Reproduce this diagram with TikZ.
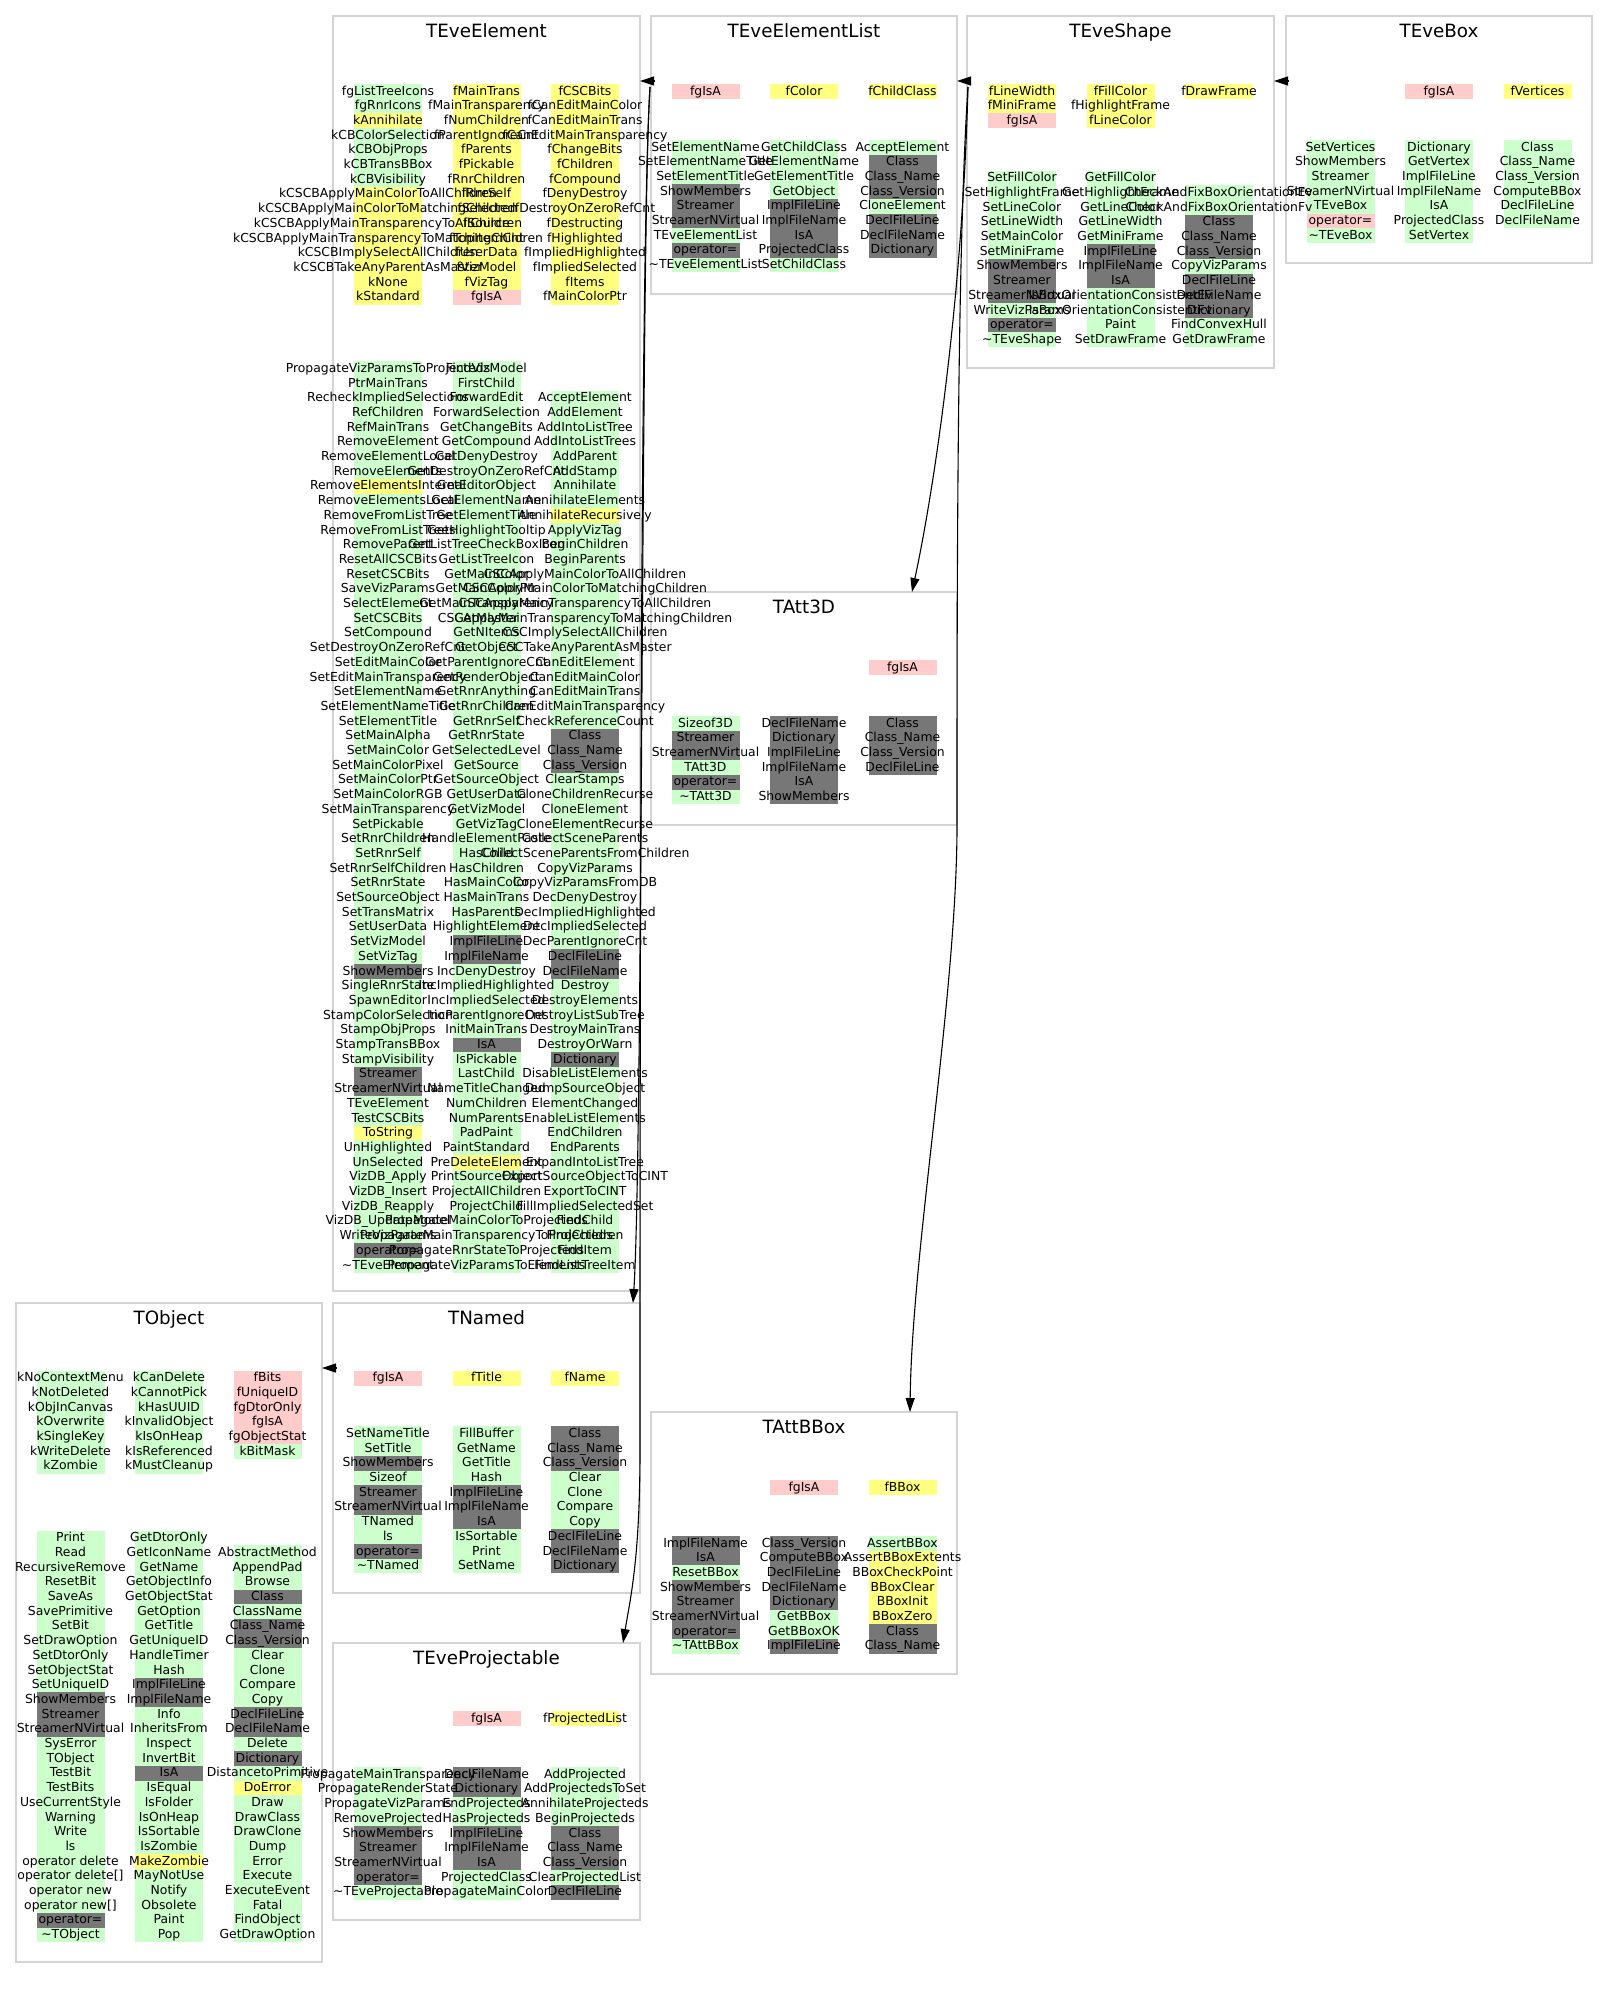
\documentclass[tikz,border=0pt]{standalone}
\usepackage{fontspec}
\setmainfont{DejaVu Sans}
\usetikzlibrary{arrows.meta}

\definecolor{G}{HTML}{CCFFCC}
\definecolor{Y}{HTML}{FFFF80}
\definecolor{P}{HTML}{FFCCCC}
\definecolor{D}{HTML}{777777}
\definecolor{framegray}{HTML}{D4D4D4}

\tikzset{
  cbox/.style={draw=framegray, line width=1.4pt, inner sep=0pt, outer sep=0pt, anchor=north west},
  ctitle/.style={anchor=base, inner sep=0pt, font=\fontsize{18.3}{22}\selectfont},
  member/.style={anchor=base, inner sep=0pt, font=\fontsize{12.4}{14}\selectfont},
  inh/.style={draw=black, line width=1.1pt, -{Triangle[length=14pt,width=9pt]}},
}

% one column of members: name prefix, centre x, top y, list of colour/text.
% First pass paints the row strips, second pass sets the texts on top.
\newif\ifmemfill
\newcommand\memcol[4]{%
  \ifmemfill
    \foreach \mycol/\mytxt [count=\myi from 0] in {#4}{%
      \fill[\mycol] ({#2-34},{#3+\myi*14.7}) rectangle ({#2+34},{#3+\myi*14.7+14.7});
    }%
  \else
    \foreach \mycol/\mytxt [count=\myi from 0] in {#4}{%
      \node[member] (#1-\myi) at ({#2},{#3+\myi*14.7+11}) {\mytxt};
    }%
  \fi}

\newcommand\allmembers{%
% ---------- TEveElement ----------
\memcol{EEd1}{388}{84}{G/fgListTreeIcons, G/fgRnrIcons, Y/kAnnihilate, G/kCBColorSelection,
  G/kCBObjProps, G/kCBTransBBox, G/kCBVisibility, Y/kCSCBApplyMainColorToAllChildren,
  Y/kCSCBApplyMainColorToMatchingChildren, Y/kCSCBApplyMainTransparencyToAllChildren,
  Y/kCSCBApplyMainTransparencyToMatchingChildren, Y/kCSCBImplySelectAllChildren,
  Y/kCSCBTakeAnyParentAsMaster, Y/kNone, Y/kStandard}
\memcol{EEd2}{486.5}{84}{Y/fMainTrans, Y/fMainTransparency, Y/fNumChildren, Y/fParentIgnoreCnt,
  Y/fParents, Y/fPickable, Y/fRnrChildren, Y/fRnrSelf, Y/fSelected, Y/fSource, Y/fTopItemCnt,
  Y/fUserData, Y/fVizModel, Y/fVizTag, P/fgIsA}
\memcol{EEd3}{585}{84}{Y/fCSCBits, Y/fCanEditMainColor, Y/fCanEditMainTrans,
  Y/fCanEditMainTransparency, Y/fChangeBits, Y/fChildren, Y/fCompound, Y/fDenyDestroy,
  Y/fDestroyOnZeroRefCnt, Y/fDestructing, Y/fHighlighted, Y/fImpliedHighlighted,
  Y/fImpliedSelected, Y/fItems, Y/fMainColorPtr}
\memcol{EEm1}{388}{361.3}{G/PropagateVizParamsToProjecteds, G/PtrMainTrans,
  G/RecheckImpliedSelections, G/RefChildren, G/RefMainTrans, G/RemoveElement,
  G/RemoveElementLocal, G/RemoveElements, Y/RemoveElementsInternal, G/RemoveElementsLocal,
  G/RemoveFromListTree, G/RemoveFromListTrees, G/RemoveParent, G/ResetAllCSCBits,
  G/ResetCSCBits, G/SaveVizParams, G/SelectElement, G/SetCSCBits, G/SetCompound,
  G/SetDestroyOnZeroRefCnt, G/SetEditMainColor, G/SetEditMainTransparency, G/SetElementName,
  G/SetElementNameTitle, G/SetElementTitle, G/SetMainAlpha, G/SetMainColor, G/SetMainColorPixel,
  G/SetMainColorPtr, G/SetMainColorRGB, G/SetMainTransparency, G/SetPickable, G/SetRnrChildren,
  G/SetRnrSelf, G/SetRnrSelfChildren, G/SetRnrState, G/SetSourceObject, G/SetTransMatrix,
  G/SetUserData, G/SetVizModel, G/SetVizTag, D/ShowMembers, G/SingleRnrState, G/SpawnEditor,
  G/StampColorSelection, G/StampObjProps, G/StampTransBBox, G/StampVisibility, D/Streamer,
  D/StreamerNVirtual, G/TEveElement, G/TestCSCBits, Y/ToString, G/UnHighlighted, G/UnSelected,
  G/VizDB\_Apply, G/VizDB\_Insert, G/VizDB\_Reapply, G/VizDB\_UpdateModel, G/WriteVizParams,
  D/operator=, G/\textasciitilde TEveElement}
\memcol{EEm2}{486.5}{361.3}{G/FindVizModel, G/FirstChild, G/ForwardEdit, G/ForwardSelection,
  G/GetChangeBits, G/GetCompound, G/GetDenyDestroy, G/GetDestroyOnZeroRefCnt, G/GetEditorObject,
  G/GetElementName, G/GetElementTitle, G/GetHighlightTooltip, G/GetListTreeCheckBoxIcon,
  G/GetListTreeIcon, G/GetMainColor, G/GetMainColorPtr, G/GetMainTransparency, G/GetMaster,
  G/GetNItems, G/GetObject, G/GetParentIgnoreCnt, G/GetRenderObject, G/GetRnrAnything,
  G/GetRnrChildren, G/GetRnrSelf, G/GetRnrState, G/GetSelectedLevel, G/GetSource,
  G/GetSourceObject, G/GetUserData, G/GetVizModel, G/GetVizTag, G/HandleElementPaste,
  G/HasChild, G/HasChildren, G/HasMainColor, G/HasMainTrans, G/HasParents, G/HighlightElement,
  D/ImplFileLine, D/ImplFileName, G/IncDenyDestroy, G/IncImpliedHighlighted,
  G/IncImpliedSelected, G/IncParentIgnoreCnt, G/InitMainTrans, D/IsA, G/IsPickable,
  G/LastChild, G/NameTitleChanged, G/NumChildren, G/NumParents, G/PadPaint, G/PaintStandard,
  Y/PreDeleteElement, G/PrintSourceObject, G/ProjectAllChildren, G/ProjectChild,
  G/PropagateMainColorToProjecteds, G/PropagateMainTransparencyToProjecteds,
  G/PropagateRnrStateToProjecteds, G/PropagateVizParamsToElements}
\memcol{EEm3}{585}{390.7}{G/AcceptElement, G/AddElement, G/AddIntoListTree, G/AddIntoListTrees,
  G/AddParent, G/AddStamp, G/Annihilate, G/AnnihilateElements, Y/AnnihilateRecursively,
  G/ApplyVizTag, G/BeginChildren, G/BeginParents, G/CSCApplyMainColorToAllChildren,
  G/CSCApplyMainColorToMatchingChildren, G/CSCApplyMainTransparencyToAllChildren,
  G/CSCApplyMainTransparencyToMatchingChildren, G/CSCImplySelectAllChildren,
  G/CSCTakeAnyParentAsMaster, G/CanEditElement, G/CanEditMainColor, G/CanEditMainTrans,
  G/CanEditMainTransparency, G/CheckReferenceCount, D/Class, D/Class\_Name, D/Class\_Version,
  G/ClearStamps, G/CloneChildrenRecurse, G/CloneElement, G/CloneElementRecurse,
  G/CollectSceneParents, G/CollectSceneParentsFromChildren, G/CopyVizParams,
  G/CopyVizParamsFromDB, G/DecDenyDestroy, G/DecImpliedHighlighted, G/DecImpliedSelected,
  G/DecParentIgnoreCnt, D/DeclFileLine, D/DeclFileName, G/Destroy, G/DestroyElements,
  G/DestroyListSubTree, G/DestroyMainTrans, G/DestroyOrWarn, D/Dictionary,
  G/DisableListElements, G/DumpSourceObject, G/ElementChanged, G/EnableListElements,
  G/EndChildren, G/EndParents, G/ExpandIntoListTree, G/ExportSourceObjectToCINT,
  G/ExportToCINT, G/FillImpliedSelectedSet, G/FindChild, G/FindChildren, G/FindItem,
  G/FindListTreeItem}
% ---------- TEveElementList ----------
\memcol{ELd1}{705.5}{84}{P/fgIsA}
\memcol{ELd2}{804}{84}{Y/fColor}
\memcol{ELd3}{902.5}{84}{Y/fChildClass}
\memcol{ELm1}{705.5}{140}{G/SetElementName, G/SetElementNameTitle, G/SetElementTitle,
  D/ShowMembers, D/Streamer, D/StreamerNVirtual, G/TEveElementList, D/operator=,
  G/\textasciitilde TEveElementList}
\memcol{ELm2}{804}{140}{G/GetChildClass, G/GetElementName, G/GetElementTitle, G/GetObject,
  D/ImplFileLine, D/ImplFileName, D/IsA, D/ProjectedClass, G/SetChildClass}
\memcol{ELm3}{902.5}{140}{G/AcceptElement, D/Class, D/Class\_Name, D/Class\_Version,
  G/CloneElement, D/DeclFileLine, D/DeclFileName, D/Dictionary}
% ---------- TEveShape ----------
\memcol{ESd1}{1022}{84}{Y/fLineWidth, Y/fMiniFrame, P/fgIsA}
\memcol{ESd2}{1120.5}{84}{Y/fFillColor, Y/fHighlightFrame, Y/fLineColor}
\memcol{ESd3}{1219}{84}{Y/fDrawFrame}
\memcol{ESm1}{1022}{170.7}{G/SetFillColor, G/SetHighlightFrame, G/SetLineColor,
  G/SetLineWidth, G/SetMainColor, G/SetMiniFrame, D/ShowMembers, D/Streamer,
  D/StreamerNVirtual, G/WriteVizParams, D/operator=, G/\textasciitilde TEveShape}
\memcol{ESm2}{1120.5}{170.7}{G/GetFillColor, G/GetHighlightFrame, G/GetLineColor,
  G/GetLineWidth, G/GetMiniFrame, D/ImplFileLine, D/ImplFileName, D/IsA,
  G/IsBoxOrientationConsistentEv, G/IsBoxOrientationConsistentFv, G/Paint, G/SetDrawFrame}
\memcol{ESm3}{1219}{185.4}{G/CheckAndFixBoxOrientationEv, G/CheckAndFixBoxOrientationFv,
  D/Class, D/Class\_Name, D/Class\_Version, G/CopyVizParams, D/DeclFileLine, D/DeclFileName,
  D/Dictionary, G/FindConvexHull, G/GetDrawFrame}
% ---------- TEveBox ----------
\memcol{EBd2}{1439}{84}{P/fgIsA}
\memcol{EBd3}{1537.5}{84}{Y/fVertices}
\memcol{EBm1}{1340.5}{140}{G/SetVertices, G/ShowMembers, G/Streamer, G/StreamerNVirtual,
  G/TEveBox, P/operator=, G/\textasciitilde TEveBox}
\memcol{EBm2}{1439}{140}{G/Dictionary, G/GetVertex, G/ImplFileLine, G/ImplFileName, G/IsA,
  G/ProjectedClass, G/SetVertex}
\memcol{EBm3}{1537.5}{140}{G/Class, G/Class\_Name, G/Class\_Version, G/ComputeBBox,
  G/DeclFileLine, G/DeclFileName}
% ---------- TAtt3D ----------
\memcol{A3d3}{902.5}{660}{P/fgIsA}
\memcol{A3m1}{705.5}{716}{G/Sizeof3D, D/Streamer, D/StreamerNVirtual, G/TAtt3D, D/operator=,
  G/\textasciitilde TAtt3D}
\memcol{A3m2}{804}{716}{D/DeclFileName, D/Dictionary, D/ImplFileLine, D/ImplFileName, D/IsA,
  D/ShowMembers}
\memcol{A3m3}{902.5}{716}{D/Class, D/Class\_Name, D/Class\_Version, D/DeclFileLine}
% ---------- TAttBBox ----------
\memcol{ABd2}{804}{1480}{P/fgIsA}
\memcol{ABd3}{902.5}{1480}{Y/fBBox}
\memcol{ABm1}{705.5}{1536}{D/ImplFileName, D/IsA, G/ResetBBox, D/ShowMembers, D/Streamer,
  D/StreamerNVirtual, D/operator=, G/\textasciitilde TAttBBox}
\memcol{ABm2}{804}{1536}{D/Class\_Version, D/ComputeBBox, D/DeclFileLine, D/DeclFileName,
  D/Dictionary, G/GetBBox, G/GetBBoxOK, D/ImplFileLine}
\memcol{ABm3}{902.5}{1536}{G/AssertBBox, Y/AssertBBoxExtents, Y/BBoxCheckPoint, Y/BBoxClear,
  Y/BBoxInit, Y/BBoxZero, D/Class, D/Class\_Name}
% ---------- TObject ----------
\memcol{TOd1}{70.5}{1370.7}{G/kNoContextMenu, G/kNotDeleted, G/kObjInCanvas, G/kOverwrite,
  G/kSingleKey, G/kWriteDelete, G/kZombie}
\memcol{TOd2}{169}{1370.7}{G/kCanDelete, G/kCannotPick, G/kHasUUID, G/kInvalidObject,
  G/kIsOnHeap, G/kIsReferenced, G/kMustCleanup}
\memcol{TOd3}{267.5}{1370.7}{P/fBits, P/fUniqueID, P/fgDtorOnly, P/fgIsA, P/fgObjectStat,
  G/kBitMask}
\memcol{TOm1}{70.5}{1530.7}{G/Print, G/Read, G/RecursiveRemove, G/ResetBit, G/SaveAs,
  G/SavePrimitive, G/SetBit, G/SetDrawOption, G/SetDtorOnly, G/SetObjectStat, G/SetUniqueID,
  D/ShowMembers, D/Streamer, D/StreamerNVirtual, G/SysError, G/TObject, G/TestBit, G/TestBits,
  G/UseCurrentStyle, G/Warning, G/Write, G/ls, G/operator delete, G/operator delete[],
  G/operator new, G/operator new[], D/operator=, G/\textasciitilde TObject}
\memcol{TOm2}{169}{1530.7}{G/GetDtorOnly, G/GetIconName, G/GetName, G/GetObjectInfo,
  G/GetObjectStat, G/GetOption, G/GetTitle, G/GetUniqueID, G/HandleTimer, G/Hash,
  D/ImplFileLine, D/ImplFileName, G/Info, G/InheritsFrom, G/Inspect, G/InvertBit, D/IsA,
  G/IsEqual, G/IsFolder, G/IsOnHeap, G/IsSortable, G/IsZombie, Y/MakeZombie, G/MayNotUse,
  G/Notify, G/Obsolete, G/Paint, G/Pop}
\memcol{TOm3}{267.5}{1545.4}{G/AbstractMethod, G/AppendPad, G/Browse, D/Class, G/ClassName,
  D/Class\_Name, D/Class\_Version, G/Clear, G/Clone, G/Compare, G/Copy, D/DeclFileLine,
  D/DeclFileName, G/Delete, D/Dictionary, G/DistancetoPrimitive, Y/DoError, G/Draw,
  G/DrawClass, G/DrawClone, G/Dump, G/Error, G/Execute, G/ExecuteEvent, G/Fatal,
  G/FindObject, G/GetDrawOption}
% ---------- TNamed ----------
\memcol{TNd1}{388}{1370.8}{P/fgIsA}
\memcol{TNd2}{486.5}{1370.8}{Y/fTitle}
\memcol{TNd3}{585}{1370.8}{Y/fName}
\memcol{TNm1}{388}{1426.4}{G/SetNameTitle, G/SetTitle, D/ShowMembers, G/Sizeof, D/Streamer,
  D/StreamerNVirtual, G/TNamed, G/ls, D/operator=, G/\textasciitilde TNamed}
\memcol{TNm2}{486.5}{1426.4}{G/FillBuffer, G/GetName, G/GetTitle, G/Hash, D/ImplFileLine,
  D/ImplFileName, D/IsA, G/IsSortable, G/Print, G/SetName}
\memcol{TNm3}{585}{1426.4}{D/Class, D/Class\_Name, D/Class\_Version, G/Clear, G/Clone,
  G/Compare, G/Copy, D/DeclFileLine, D/DeclFileName, D/Dictionary}
% ---------- TEveProjectable ----------
\memcol{TPd2}{486.5}{1711.2}{P/fgIsA}
\memcol{TPd3}{585}{1711.2}{Y/fProjectedList}
\memcol{TPm1}{388}{1767.2}{G/PropagateMainTransparency, G/PropagateRenderState,
  G/PropagateVizParams, G/RemoveProjected, D/ShowMembers, D/Streamer, D/StreamerNVirtual,
  D/operator=, G/\textasciitilde TEveProjectable}
\memcol{TPm2}{486.5}{1767.2}{D/DeclFileName, D/Dictionary, G/EndProjecteds, G/HasProjecteds,
  D/ImplFileLine, D/ImplFileName, D/IsA, G/ProjectedClass, G/PropagateMainColor}
\memcol{TPm3}{585}{1767.2}{G/AddProjected, G/AddProjectedsToSet, G/AnnihilateProjecteds,
  G/BeginProjecteds, D/Class, D/Class\_Name, D/Class\_Version, G/ClearProjectedList,
  D/DeclFileLine}
}

\begin{document}
\begin{tikzpicture}[x=1pt,y=-1pt]
\fill[white] (0,0) rectangle (1608,1989);
\useasboundingbox (0,0) rectangle (1608,1989);

% ---------- class frames ----------
\node[cbox, minimum width=307pt, minimum height=1275pt] (EE) at (333,16) {};
\node[cbox, minimum width=306pt, minimum height=278pt] (EL) at (651,16) {};
\node[cbox, minimum width=307pt, minimum height=352pt] (ES) at (967,16) {};
\node[cbox, minimum width=306pt, minimum height=247pt] (EB) at (1286,16) {};
\node[cbox, minimum width=306pt, minimum height=233pt] (A3) at (651,592) {};
\node[cbox, minimum width=306pt, minimum height=262pt] (AB) at (651,1412) {};
\node[cbox, minimum width=306pt, minimum height=659pt] (TO) at (16,1303) {};
\node[cbox, minimum width=307pt, minimum height=290pt] (TN) at (333,1303) {};
\node[cbox, minimum width=307pt, minimum height=277pt] (TP) at (333,1643) {};

\node[ctitle] (EE-t) at ([yshift=-21pt]EE.north) {TEveElement};
\node[ctitle] (EL-t) at ([yshift=-21pt]EL.north) {TEveElementList};
\node[ctitle] (ES-t) at ([yshift=-21pt]ES.north) {TEveShape};
\node[ctitle] (EB-t) at ([yshift=-21pt]EB.north) {TEveBox};
\node[ctitle] (A3-t) at ([yshift=-21pt]A3.north) {TAtt3D};
\node[ctitle] (AB-t) at ([yshift=-21pt]AB.north) {TAttBBox};
\node[ctitle] (TO-t) at ([yshift=-21pt]TO.north) {TObject};
\node[ctitle] (TN-t) at ([yshift=-21pt]TN.north) {TNamed};
\node[ctitle] (TP-t) at ([yshift=-21pt]TP.north) {TEveProjectable};

% ---------- member strips, then member names ----------
\memfilltrue \allmembers
\memfillfalse \allmembers

% ---------- inheritance ----------
\draw[inh] ([xshift=3pt,yshift=-65pt]EL.north west) -- ([yshift=-65pt]EE.north east);
\draw[inh] ([xshift=3pt,yshift=-65pt]ES.north west) -- ([yshift=-65pt]EL.north east);
\draw[inh] ([xshift=3pt,yshift=-65pt]EB.north west) -- ([yshift=-65pt]ES.north east);
\draw[inh] ([xshift=3pt,yshift=-65pt]TN.north west) -- ([yshift=-65pt]TO.north east);

\draw[inh] ([xshift=-1pt,yshift=-71pt]EL.north west)
  .. controls (641,220) and (643,1150) .. ([xshift=-7pt]TN.north east);
\draw[inh] ([xshift=-1pt,yshift=-71pt]EL.north west)
  .. controls (640,250) and (640,1100) .. (640,1450)
  .. controls (640,1560) and (630,1600) .. ([xshift=-17pt]TP.north east);

\draw[inh] ([xshift=1pt,yshift=-71pt]ES.north west)
  .. controls (963,280) and (938,470) .. ([xshift=-45pt]A3.north east);
\draw[inh] ([xshift=1pt,yshift=-71pt]ES.north west)
  .. controls (957,250) and (957,600) .. (957,830)
  .. controls (956,1000) and (912,1250) .. ([xshift=-47pt]AB.north east);
\end{tikzpicture}
\end{document}
